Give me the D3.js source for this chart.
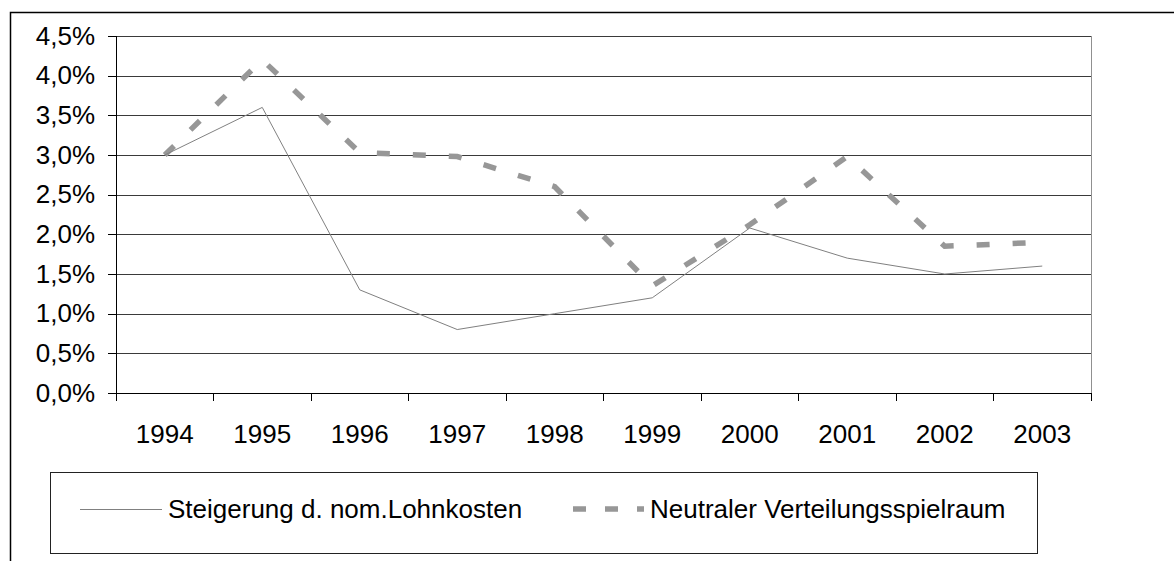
<!DOCTYPE html>
<html>
<head>
<meta charset="utf-8">
<script src="https://cdn.jsdelivr.net/npm/d3@7"></script>
<style>
  body { margin: 0; background: #fff; }
  svg { display: block; font-family: "Liberation Sans", Arial, sans-serif; }
</style>
</head>
<body>
<div id="my_dataviz"></div>
<script>
// data
var years = ["1994", "1995", "1996", "1997", "1998", "1999", "2000", "2001", "2002", "2003"];
var lohnkosten = [3.0, 3.6, 1.3, 0.8, 1.0, 1.2, 2.08, 1.7, 1.5, 1.6];
var spielraum = [3.0, 4.2, 3.03, 2.98, 2.6, 1.35, 2.12, 2.98, 1.85, 1.9];
var yTicks = [0, 0.5, 1.0, 1.5, 2.0, 2.5, 3.0, 3.5, 4.0, 4.5];
var seriesNames = ["Steigerung d. nom.Lohnkosten", "Neutraler Verteilungsspielraum"];

// set the dimensions and margins of the graph
var margin = {top: 36, right: 83, bottom: 168, left: 116},
    width = 1174 - margin.left - margin.right,
    height = 561 - margin.top - margin.bottom;

var root = d3.select("#my_dataviz")
  .append("svg")
  .attr("width", 1174)
  .attr("height", 561);

// outer chart border
root.append("rect")
  .attr("x", 10.5).attr("y", 12.5)
  .attr("width", 1300).attr("height", 700)
  .attr("fill", "none")
  .attr("stroke", "#000")
  .attr("stroke-width", 1.5);

var svg = root.append("g")
  .attr("transform", "translate(" + margin.left + "," + margin.top + ")");

// scales
var x = d3.scaleBand().domain(years).range([0, width]).padding(0);
var y = d3.scaleLinear().domain([0, 4.5]).range([height, 0]);
var cx = function (d) { return x(d) + x.bandwidth() / 2; };

// gridlines
svg.append("g")
  .attr("class", "grid")
  .call(d3.axisLeft(y).tickValues(yTicks).tickSize(-width).tickFormat(""))
  .call(function (g) {
    g.select(".domain").remove();
    g.selectAll("line").attr("stroke", "#3a3a3a").attr("shape-rendering", "crispEdges");
  });

// right plot border
svg.append("line")
  .attr("x1", width).attr("x2", width)
  .attr("y1", 0).attr("y2", height)
  .attr("stroke", "#909090")
  .attr("shape-rendering", "crispEdges");

// Y axis
svg.append("g")
  .call(d3.axisLeft(y).tickValues(yTicks).tickSize(8).tickPadding(13)
    .tickFormat(function (d) { return d.toFixed(1).replace(".", ",") + "%"; }))
  .call(function (g) {
    g.select(".domain").attr("stroke", "#000").attr("d", "M0.5,0V" + (height + 8));
    g.selectAll("line").attr("stroke", "#000").attr("shape-rendering", "crispEdges");
    g.selectAll("text").style("font-size", "26px").attr("fill", "#000");
  });

// X axis: labels centred on categories, ticks between them
var xAxis = svg.append("g")
  .attr("transform", "translate(0," + height + ")")
  .call(d3.axisBottom(x).tickSize(0).tickPadding(31.5))
  .call(function (g) {
    g.select(".domain").attr("stroke", "#000").attr("shape-rendering", "crispEdges");
    g.selectAll("text").style("font-size", "26px").attr("fill", "#000");
  });

xAxis.selectAll(".sep")
  .data(years.concat(["end"]))
  .enter()
  .append("line")
  .attr("class", "sep")
  .attr("x1", function (d) { return d == "end" ? width : x(d); })
  .attr("x2", function (d) { return d == "end" ? width : x(d); })
  .attr("y1", 0).attr("y2", 8)
  .attr("stroke", "#000")
  .attr("shape-rendering", "crispEdges");

// lines
var line = function (vals) {
  return d3.line()
    .x(function (d, i) { return cx(years[i]); })
    .y(function (d) { return y(d); })(vals);
};

svg.append("path")
  .attr("d", line(spielraum))
  .attr("fill", "none")
  .attr("stroke", "#979797")
  .attr("stroke-width", 5.5)
  .attr("stroke-dasharray", "13,23");

svg.append("path")
  .attr("d", line(lohnkosten))
  .attr("fill", "none")
  .attr("stroke", "#808080")
  .attr("stroke-width", 1);

// legend
var legend = root.append("g");
legend.append("rect")
  .attr("x", 50.5).attr("y", 472.5)
  .attr("width", 987).attr("height", 81)
  .attr("fill", "#fff")
  .attr("stroke", "#222")
  .attr("stroke-width", 1);

legend.append("line")
  .attr("x1", 80).attr("x2", 162)
  .attr("y1", 509.5).attr("y2", 509.5)
  .attr("stroke", "#808080");
legend.append("text")
  .attr("x", 168).attr("y", 518)
  .style("font-size", "26px")
  .text(seriesNames[0]);

legend.append("line")
  .attr("x1", 573).attr("x2", 644)
  .attr("y1", 509).attr("y2", 509)
  .attr("stroke", "#979797")
  .attr("stroke-width", 5.5)
  .attr("stroke-dasharray", "13,19");
legend.append("text")
  .attr("x", 650).attr("y", 518)
  .style("font-size", "26px")
  .text(seriesNames[1]);
</script>
</body>
</html>
